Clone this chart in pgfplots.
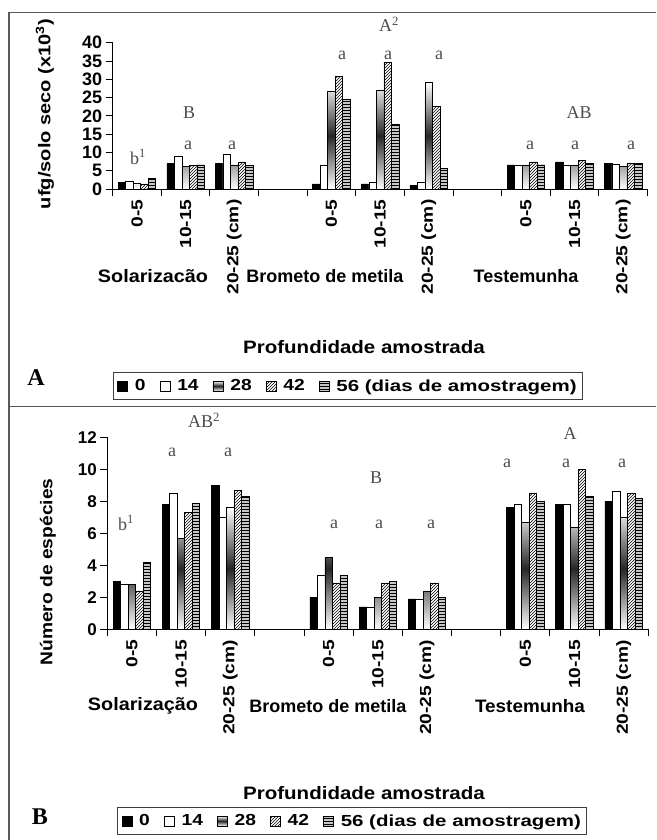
\documentclass[border=0pt]{standalone}
\usepackage{fontspec}
\setmainfont{Liberation Sans}
\newfontfamily\serif{Liberation Serif}
\usepackage{graphicx}
\usepackage{pgfplots}
\pgfplotsset{compat=1.18}
\usetikzlibrary{patterns}

\newcommand\fs[1]{\fontsize{#1}{#1}\selectfont}
\newcommand\tl[1]{\scalebox{1.2}[1]{#1}}

\pgfplotsset{
  s0/.style={fill=black, draw=black, line width=0.7pt},
  s14/.style={fill=white, draw=black, line width=0.7pt},
  s28/.style={draw=black, line width=0.7pt, top color=white, bottom color=white, middle color=black!85},
  s42/.style={draw=black, line width=0.7pt, pattern=north east lines},
  s56/.style={draw=black, line width=0.7pt, fill=gray!45, postaction={pattern=horizontal lines}},
  panel/.style={
    scale only axis, anchor=south west,
    xmin=-0.5, xmax=10.5, ymin=0,
    axis lines*=left,
    axis line style={line width=0.9pt, black},
    tick style={line width=0.9pt, black},
    major tick length=7pt, tick align=outside,
    xtick={-0.5,0.5,...,10.5},
    x tick label as interval,
    xticklabels={\tl{0-5},\tl{10-15},\tl{20-25 (cm)},{},\tl{0-5},\tl{10-15},\tl{20-25 (cm)},{},\tl{0-5},\tl{10-15},\tl{20-25 (cm)}},
    xticklabel style={font=\bfseries\fs{16}, rotate=90, anchor=east},
    yticklabel style={font=\bfseries\fs{18}},
    /pgf/number format/assume math mode=true,
    ybar=0pt, bar width=7.5pt,
    legend columns=-1,
    legend image code/.code={\draw[##1] (0pt,-5pt) rectangle (10pt,5pt);},
    legend style={draw=black!75, line width=1pt, font=\bfseries\fs{16}, anchor=north west,
      inner xsep=4pt, inner ysep=5pt,
      /tikz/every even column/.append style={column sep=12pt},
      /tikz/every odd column/.append style={column sep=5pt}},
  }
}

\begin{document}
\begin{tikzpicture}
\useasboundingbox (0,0) rectangle (656pt,840pt);
\draw[black!65, line width=1.5pt] (9pt,0pt) -- (9pt,827.3pt) -- (656pt,827.3pt);
\draw[black!65, line width=1.5pt] (9pt,433.3pt) -- (656pt,433.3pt);

% ---------- Panel A ----------
\begin{axis}[panel, at={(112.7pt,651pt)}, width=534.8pt, height=146.3pt,
  ymax=40, ytick={0,5,...,40},
  legend style={at={(0,-1.251)}}]
\addplot[s0] coordinates {(0,1.7) (1,7.0) (2,7.0) (4,1.4) (5,1.4) (6,0.9) (8,6.6) (9,7.4) (10,7.0)};
\addplot[s14] coordinates {(0,2.0) (1,8.8) (2,9.6) (4,6.4) (5,1.7) (6,1.7) (8,6.6) (9,6.6) (10,6.8)};
\addplot[s28] coordinates {(0,1.6) (1,6.1) (2,6.6) (4,26.8) (5,27.1) (6,29.1) (8,6.6) (9,6.4) (10,6.1)};
\addplot[s42] coordinates {(0,1.4) (1,6.4) (2,7.4) (4,30.7) (5,34.7) (6,22.5) (8,7.4) (9,7.7) (10,7.1)};
\addplot[s56] coordinates {(0,2.9) (1,6.6) (2,6.4) (4,24.5) (5,17.8) (6,5.6) (8,6.6) (9,7.1) (10,7.1)};
\legend{\tl{0},\tl{14},\tl{28},\tl{42},\scalebox{1.28}[1]{56 (dias de amostragem)}}
\end{axis}

% ---------- Panel B ----------
\begin{axis}[panel, at={(107.3pt,210.7pt)}, width=541pt, height=192pt,
  ymax=12, ytick={0,2,...,12},
  yticklabel style={font=\bfseries\fs{17}},
  legend style={at={(0.018,-0.9255)}}]
\addplot[s0] coordinates {(0,3.0) (1,7.8) (2,9.0) (4,2.0) (5,1.4) (6,1.9) (8,7.6) (9,7.8) (10,8.0)};
\addplot[s14] coordinates {(0,2.8) (1,8.5) (2,7.0) (4,3.4) (5,1.4) (6,1.9) (8,7.8) (9,7.8) (10,8.6)};
\addplot[s28] coordinates {(0,2.8) (1,5.7) (2,7.6) (4,4.5) (5,2.0) (6,2.35) (8,6.7) (9,6.4) (10,7.0)};
\addplot[s42] coordinates {(0,2.4) (1,7.3) (2,8.7) (4,2.9) (5,2.9) (6,2.9) (8,8.5) (9,10.0) (10,8.5)};
\addplot[s56] coordinates {(0,4.2) (1,7.9) (2,8.3) (4,3.35) (5,3.0) (6,2.0) (8,8.0) (9,8.3) (10,8.2)};
\legend{\tl{0},\tl{14},\tl{28},\tl{42},\scalebox{1.28}[1]{56 (dias de amostragem)}}
\end{axis}

% ---------- texts ----------
\begin{scope}[every node/.style={font=\bfseries\fs{18}}]
\node at (153pt,564pt) {\scalebox{1.1}[1]{Solarizacão}};
\node at (325pt,564pt) {\scalebox{1.0}[1]{Brometo de metila}};
\node at (526pt,564pt) {\scalebox{1.0}[1]{Testemunha}};
\node at (364pt,493pt) {\scalebox{1.14}[1]{Profundidade amostrada}};
\node at (143pt,134pt) {\scalebox{1.1}[1]{Solarização}};
\node at (328pt,134pt) {\scalebox{1.0}[1]{Brometo de metila}};
\node at (530pt,134pt) {\scalebox{1.05}[1]{Testemunha}};
\node at (364pt,47pt) {\scalebox{1.14}[1]{Profundidade amostrada}};
\end{scope}
\node[rotate=90, font=\bfseries\fs{17}] at (45pt,726pt) {\scalebox{1.18}[1]{ufg/solo seco (x10\textsuperscript{3})}};
\node[rotate=90, font=\bfseries\fs{17}] at (48pt,268pt) {\scalebox{1.13}[1]{Número de espécies}};

\node[font=\serif\bfseries\fs{24}] at (36pt,462pt) {A};
\node[font=\serif\bfseries\fs{24}] at (40pt,23pt) {B};

\begin{scope}[every node/.style={font=\serif\fs{18}, text=black!70}]
\node at (138pt,683pt) {b\textsuperscript{1}};
\node at (189pt,727pt) {B};
\node at (188pt,695pt) {a};
\node at (232pt,695pt) {a};
\node at (389pt,816pt) {A\textsuperscript{2}};
\node at (342pt,785pt) {a};
\node at (388pt,785pt) {a};
\node at (439pt,785pt) {a};
\node at (579pt,727pt) {AB};
\node at (530pt,695pt) {a};
\node at (575pt,695pt) {a};
\node at (631pt,695pt) {a};
\node at (204pt,420pt) {AB\textsuperscript{2}};
\node at (172pt,388pt) {a};
\node at (228pt,388pt) {a};
\node at (126pt,317pt) {b\textsuperscript{1}};
\node at (376pt,362pt) {B};
\node at (334pt,316pt) {a};
\node at (379pt,316pt) {a};
\node at (431pt,316pt) {a};
\node at (570pt,406pt) {A};
\node at (507pt,377pt) {a};
\node at (566pt,377pt) {a};
\node at (622pt,377pt) {a};
\end{scope}
\end{tikzpicture}
\end{document}
